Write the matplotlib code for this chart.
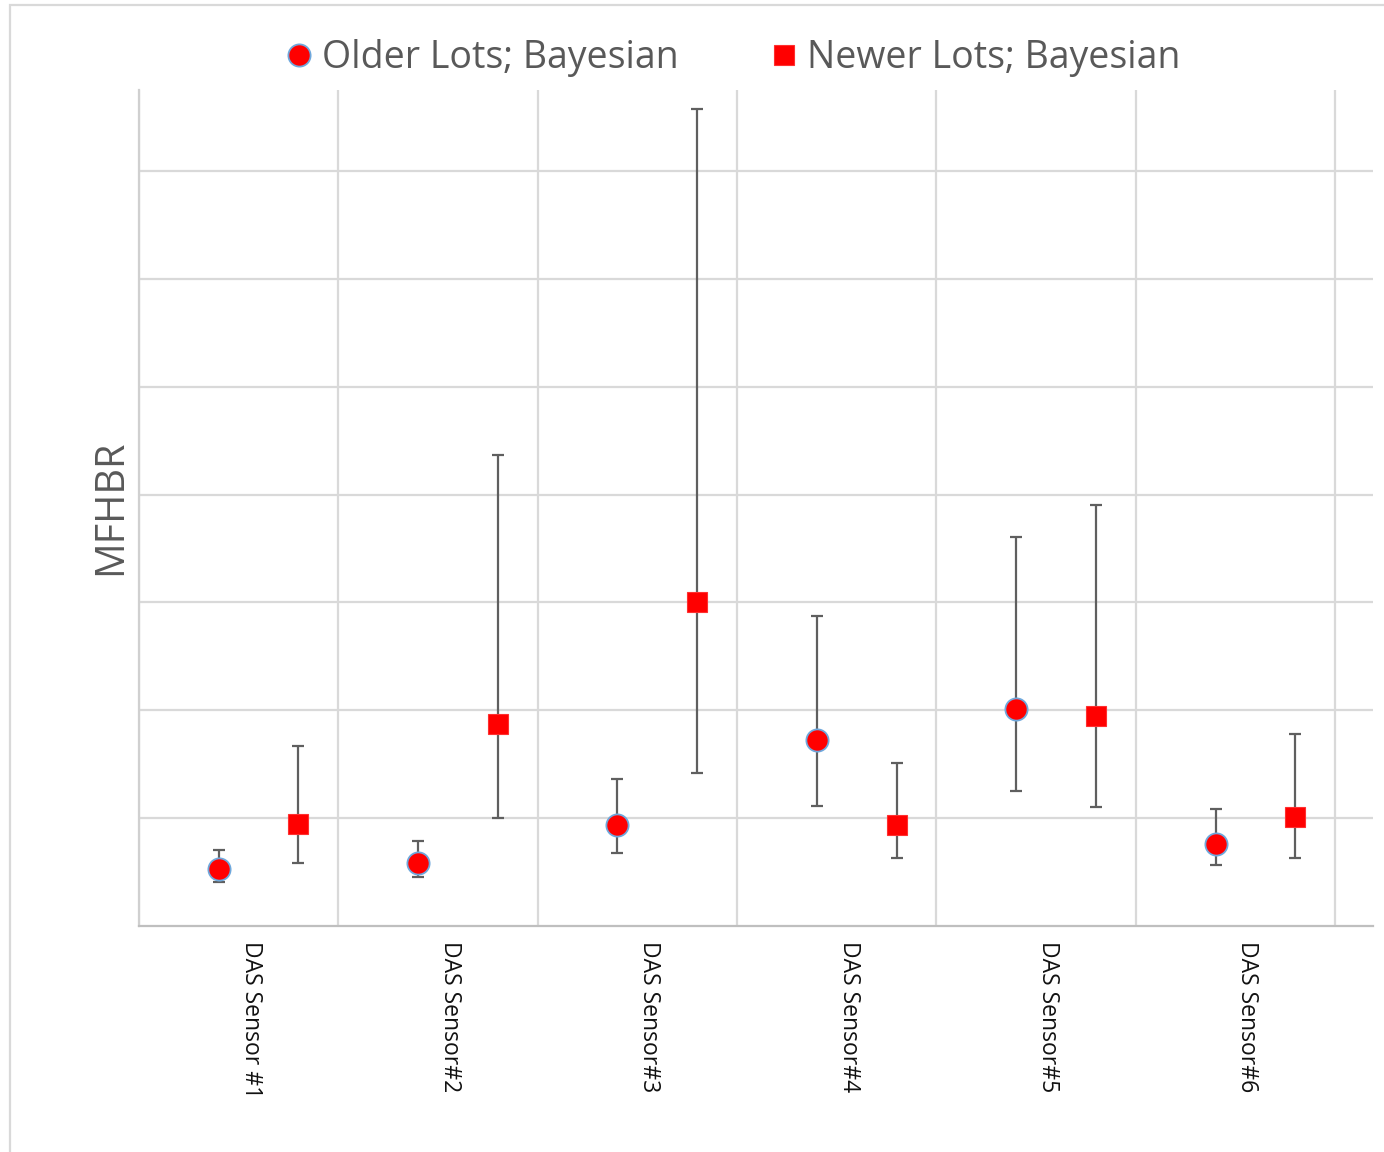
import matplotlib
matplotlib.use("Agg")
import matplotlib.pyplot as plt
import numpy as np
from matplotlib.patches import Rectangle

# Sensor categories
sensors = ["DAS Sensor #1", "DAS Sensor#2", "DAS Sensor#3",
           "DAS Sensor#4", "DAS Sensor#5", "DAS Sensor#6"]

# Older lots: Bayesian estimate with lower / upper bounds
older_mid = [0.53, 0.58, 0.94, 1.72, 2.01, 0.76]
older_lo = [0.41, 0.45, 0.68, 1.11, 1.25, 0.57]
older_hi = [0.70, 0.79, 1.36, 2.87, 3.61, 1.08]

# Newer lots: Bayesian estimate with lower / upper bounds
newer_mid = [0.95, 1.87, 3.00, 0.94, 1.95, 1.01]
newer_lo = [0.58, 1.00, 1.42, 0.63, 1.10, 0.63]
newer_hi = [1.67, 4.37, 7.57, 1.51, 3.90, 1.78]

plt.rcParams["font.family"] = ["Open Sans", "DejaVu Sans"]

fig = plt.figure(figsize=(13.84, 11.52), dpi=100)
ax = fig.add_axes([139 / 1384, 1 - 926 / 1152, 1234 / 1384, 836 / 1152])

idx = np.arange(len(sensors))
x_old = idx + 0.4
x_new = idx + 0.8

om, ol, oh = map(np.asarray, (older_mid, older_lo, older_hi))
nm, nl, nh = map(np.asarray, (newer_mid, newer_lo, newer_hi))

err_style = dict(fmt="none", ecolor="#5f5f5f", elinewidth=1.6,
                 capsize=4, capthick=1.6, zorder=3)
ax.errorbar(x_old, om, yerr=[om - ol, oh - om], **err_style)
ax.errorbar(x_new, nm, yerr=[nm - nl, nh - nm], **err_style)

ax.plot(x_old, om, linestyle="none", marker="o", markersize=16,
        markerfacecolor="#ff0000", markeredgecolor="#6fa8dc",
        markeredgewidth=1.3, zorder=4, label="Older Lots; Bayesian")
ax.plot(x_new, nm, linestyle="none", marker="s", markersize=15,
        markerfacecolor="#ff0000", markeredgecolor="#ff3030",
        markeredgewidth=0.8, zorder=4, label="Newer Lots; Bayesian")

ax.set_xlim(0, 6.19)
ax.set_ylim(0, 7.75)

# category boundaries as vertical gridlines
ax.set_xticks(np.arange(0, 7), minor=True)
ax.set_xticks(idx + 0.56)
ax.set_xticklabels(sensors, rotation=-90, fontsize=16.5, color="#111111",
                   va="top", ha="center")
ax.tick_params(axis="x", which="both", length=0, pad=11)
ax.set_yticks(np.arange(1, 8))
ax.set_yticklabels([])
ax.tick_params(axis="y", length=0)

ax.grid(True, axis="x", which="minor", color="#d9d9d9", linewidth=1.6)
ax.grid(True, axis="y", which="major", color="#d9d9d9", linewidth=1.6)
ax.grid(False, axis="x", which="major")
ax.set_axisbelow(True)

for side in ("top", "right"):
    ax.spines[side].set_visible(False)
ax.spines["left"].set_color("#d0d0d0")
ax.spines["left"].set_linewidth(1.6)
ax.spines["bottom"].set_color("#bfbfbf")
ax.spines["bottom"].set_linewidth(1.6)

fig.text(111 / 1384, 1 - 507 / 1152, "MFHBR", rotation=90,
         ha="center", va="center", fontsize=28.5, color="#595959")

fig.legend(loc="center", bbox_to_anchor=(734 / 1384, 1 - 58 / 1152),
           ncol=2, frameon=False, fontsize=27, labelcolor="#595959",
           handlelength=0.6, handletextpad=0.3, columnspacing=2.53,
           markerscale=1.0)

# chart area border
fig.add_artist(Rectangle((10 / 1384, -0.5), 2.0, 0.5 + 1 - 5 / 1152,
                         transform=fig.transFigure, fill=False,
                         edgecolor="#d9d9d9", linewidth=1.6))

fig.savefig("out.png", dpi=100)
